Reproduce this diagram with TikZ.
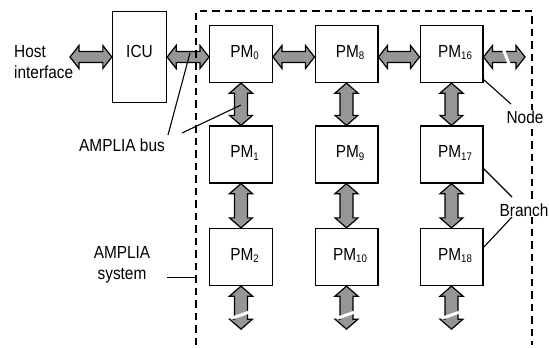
\documentclass[tikz,border=0pt]{standalone}
\usepackage{fontspec}
\setmainfont{Liberation Sans}[FakeStretch=0.88]
\usetikzlibrary{calc}
\definecolor{busgray}{RGB}{150,150,150}
\newcommand\sbs[1]{\raisebox{-2.5pt}{\fontsize{11}{11}\selectfont #1}}
\newcommand\pmtxt[1]{\hspace*{7pt}PM\sbs{#1}}
\newcommand\hbus[2]{\filldraw[bus] (#1) -- ($(#1)+(9,-11.5)$) -- ($(#1)+(9,-5.5)$) -- ($(#2)+(-9,-5.5)$) -- ($(#2)+(-9,-11.5)$) -- (#2) -- ($(#2)+(-9,11.5)$) -- ($(#2)+(-9,5.5)$) -- ($(#1)+(9,5.5)$) -- ($(#1)+(9,11.5)$) -- cycle;}
\newcommand\vbus[2]{\filldraw[bus] (#1) -- ($(#1)+(11.5,10)$) -- ($(#1)+(6.5,10)$) -- ($(#2)+(6.5,-10)$) -- ($(#2)+(11.5,-10)$) -- (#2) -- ($(#2)+(-11.5,-10)$) -- ($(#2)+(-6.5,-10)$) -- ($(#1)+(-6.5,10)$) -- ($(#1)+(-11.5,10)$) -- cycle;}
\begin{document}
\begin{tikzpicture}[x=1pt,y=-1pt, font=\fontsize{17.5}{21}\selectfont,
  box/.style={draw, line width=1.3pt, fill=white, minimum width=62.7pt, minimum height=57pt, inner sep=0pt, text height=11.5pt, text depth=5pt},
  bus/.style={fill=busgray, draw=black, line width=1.2pt, line join=miter},
  lbl/.style={inner sep=0pt, align=center},
  lead/.style={line width=1.1pt},
  frame/.style={line width=1.3pt, dash pattern=on 7.5pt off 5pt},
  gap/.style={white, line width=3pt}]
\useasboundingbox (0,0) rectangle (549,348);
% boxes
\node[box, minimum width=54pt, minimum height=91pt, text height=9.5pt, text depth=8pt] (icu) at (139.5,57) {ICU};
\node[box] (pm0)  at (241,54)    {\pmtxt{0}};
\node[box] (pm8)  at (346.5,54)  {\pmtxt{8}};
\node[box] (pm16) at (451.5,54)  {\pmtxt{16}};
\node[box] (pm1)  at (241,154.5) {\pmtxt{1}};
\node[box] (pm9)  at (346.5,154.5) {\pmtxt{9}};
\node[box] (pm17) at (451.5,154.5) {\pmtxt{17}};
\node[box] (pm2)  at (241,257)   {\pmtxt{2}};
\node[box] (pm10) at (346.5,257) {\pmtxt{10}};
\node[box] (pm18) at (451.5,257) {\pmtxt{18}};
% bus end points
\coordinate (host) at (70,57);
\coordinate (p0w) at (pm0.west |- icu.east);
\coordinate (p0e) at (pm0.east |- icu.east);
\coordinate (p8w) at (pm8.west |- icu.east);
\coordinate (p8e) at (pm8.east |- icu.east);
\coordinate (p16w) at (pm16.west |- icu.east);
\coordinate (p16e) at (pm16.east |- icu.east);
\coordinate (rout) at (525,57);
\coordinate (d0) at ($(pm2.south)+(0,43)$);
\coordinate (d8) at ($(pm10.south)+(0,43)$);
\coordinate (d16) at ($(pm18.south)+(0,43)$);
% horizontal buses
\hbus{host}{icu.west}
\hbus{icu.east}{p0w}
\hbus{p0e}{p8w}
\hbus{p8e}{p16w}
\hbus{p16e}{rout}
\draw[gap] ($(p16e)!0.55!(rout)+(-3.5,-9)$) -- ($(p16e)!0.55!(rout)+(3.5,9)$);
% vertical buses
\vbus{pm0.south}{pm1.north}
\vbus{pm8.south}{pm9.north}
\vbus{pm16.south}{pm17.north}
\vbus{pm1.south}{pm2.north}
\vbus{pm9.south}{pm10.north}
\vbus{pm17.south}{pm18.north}
\vbus{pm2.south}{d0}
\vbus{pm10.south}{d8}
\vbus{pm18.south}{d16}
\foreach \c/\d in {pm2/d0, pm10/d8, pm18/d16}{
  \draw[gap] ($(\c.south)!0.67!(\d)+(-10,3.5)$) -- ($(\c.south)!0.67!(\d)+(10,-3.5)$);
}
% system frame
\coordinate (fbl) at (196,345);
\coordinate (ftl) at (196,11);
\coordinate (ftr) at (532,11);
\coordinate (fbr) at (532,345);
\draw[frame] (fbl) -- (ftl) -- (ftr) -- (fbr);
% labels
\node[lbl, align=left, anchor=north west] (hostlbl) at (14,45) {Host\\interface};
\node[lbl] (buslbl) at (122,145) {AMPLIA bus};
\node[lbl, anchor=north] (syslbl) at (122,246) {AMPLIA\\system};
\node[lbl, fill=white, inner sep=1pt] (nodelbl) at (525,117) {Node};
\node[lbl, fill=white, inner sep=1pt] (branchlbl) at (524,210) {Branch};
% leader lines
\coordinate (b1) at (168,135);
\coordinate (b1e) at (190,53);
\coordinate (b2) at (182,133);
\coordinate (b2e) at (241,105);
\draw[lead] (b1) -- (b1e);
\draw[lead] (b2) -- (b2e);
\coordinate (s1) at (167,277.5);
\draw[lead] (s1) -- (s1 -| fbl);
\coordinate (n1) at (483,79);
\coordinate (n2) at (511,104);
\draw[lead] (n1) -- (n2);
\coordinate (r1) at (483,168);
\coordinate (r2) at (512,197);
\coordinate (r3) at (512,217);
\coordinate (r4) at (483,248);
\draw[lead] (r1) -- (r2);
\draw[lead] (r3) -- (r4);
\end{tikzpicture}
\end{document}
